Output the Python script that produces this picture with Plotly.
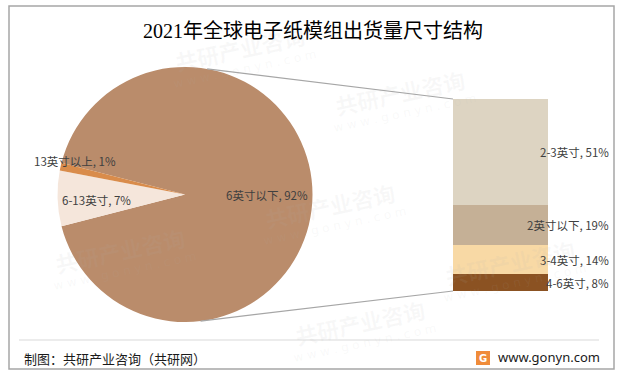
import math
import plotly.graph_objects as go

# ---------------- data ----------------
title_text = "2021年全球电子纸模组出货量尺寸结构"
pie_labels = ["6英寸以下", "6-13英寸", "13英寸以上"]
pie_values = [92, 7, 1]
pie_colors = ["#BA8C6B", "#F5E6DB", "#D98C4B"]

bar_labels = ["2-3英寸", "2英寸以下", "3-4英寸", "4-6英寸"]   # top -> bottom
bar_values = [51, 19, 14, 8]
bar_colors = ["#DDD4C2", "#C5B096", "#F8D9A5", "#8B5222"]

source_text = "制图：共研产业咨询（共研网）"
site_text = "www.gonyn.com"

# ---------------- layout geometry ----------------
W, H = 627, 379
def px(x):
    return x / W
def py(y):
    return 1 - y / H

pie_cx, pie_cy, pie_r = 185, 194.5, 127.5
bar_x0, bar_x1, bar_y0, bar_y1 = 453, 548, 99, 291

CJK = "Noto Sans CJK SC, Microsoft YaHei, sans-serif"
TXT = "#404040"

fig = go.Figure()

other_share = sum(pie_values[1:]) / sum(pie_values)
rotation = 270 + other_share * 360 / 2

fig.add_trace(go.Pie(
    labels=pie_labels, values=pie_values, sort=False, direction="clockwise",
    rotation=rotation, marker=dict(colors=pie_colors, line=dict(width=0)),
    textinfo="none", hoverinfo="label+percent", showlegend=False,
    domain=dict(x=[px(pie_cx - pie_r), px(pie_cx + pie_r)],
                y=[py(pie_cy + pie_r), py(pie_cy - pie_r)]),
))

# stacked bar (bottom -> top)
for lab, val, col in zip(bar_labels[::-1], bar_values[::-1], bar_colors[::-1]):
    fig.add_trace(go.Bar(x=[0], y=[val], name=lab, marker=dict(color=col, line=dict(width=0)),
                         width=1, xaxis="x", yaxis="y", showlegend=False,
                         hovertemplate=lab + ": %{y}%<extra></extra>"))

total_bar = sum(bar_values)
fig.update_layout(
    width=W, height=H, margin=dict(l=0, r=0, t=0, b=0),
    paper_bgcolor="white", plot_bgcolor="rgba(0,0,0,0)",
    barmode="stack", bargap=0,
    xaxis=dict(domain=[px(bar_x0), px(bar_x1)], range=[-0.5, 0.5], visible=False, fixedrange=True),
    yaxis=dict(domain=[py(bar_y1), py(bar_y0)], range=[0, total_bar], visible=False, fixedrange=True),
)

annotations = []
shapes = []

def ann(x, y, text, size, family, color, xanchor="center", yanchor="middle", yref="paper", angle=0):
    annotations.append(dict(x=x, y=y, xref="paper", yref=yref, text=text, showarrow=False,
                            xanchor=xanchor, yanchor=yanchor, textangle=angle,
                            font=dict(size=size, family=family, color=color)))

# faint watermarks (kept inside the frame)
wm = [(400, 92), (120, 250), (330, 205), (360, 322), (510, 262), (240, 48)]
for (wx, wy) in wm:
    ann(px(wx), py(wy), "<b>共研产业咨询</b>", 22, CJK, "rgba(180,180,180,0.09)", angle=-12)
    ann(px(wx + 5), py(wy + 21), "w w w . g o n y n . c o m", 12, "DejaVu Sans", "rgba(180,180,180,0.09)", angle=-12)

# title
ann(px(313), py(31), title_text, 20, "Liberation Serif, Noto Sans CJK SC, serif", "#000000")

# pie labels
pie_label_pos = [(267, 195), (96, 200), (75, 161)]
tot = sum(pie_values)
for lab, val, (lx, ly) in zip(pie_labels, pie_values, pie_label_pos):
    ann(px(lx), py(ly), f"{lab}, {round(val / tot * 100)}%", 11.5, CJK, TXT)

# bar labels
cum = 0
for lab, val in zip(bar_labels[::-1], bar_values[::-1]):
    ann(px(611), cum + val / 2, f"{lab}, {val}%", 11.5, CJK, TXT, xanchor="right", yref="y")
    cum += val

# connector lines from pie to bar
a_top, a_bot = math.radians(10), math.radians(173)
p_top = (pie_cx + pie_r * math.sin(a_top), pie_cy - pie_r * math.cos(a_top))
p_bot = (pie_cx + pie_r * math.sin(a_bot), pie_cy - pie_r * math.cos(a_bot))
shapes.append(dict(type="line", xref="paper", yref="paper", x0=px(p_top[0]), y0=py(p_top[1]),
                   x1=px(bar_x0), y1=py(bar_y0), line=dict(color="#A6A6A6", width=1.2)))
shapes.append(dict(type="line", xref="paper", yref="paper", x0=px(p_bot[0]), y0=py(p_bot[1]),
                   x1=px(bar_x0), y1=py(bar_y1), line=dict(color="#A6A6A6", width=1.2)))

# frame and separator
shapes.append(dict(type="rect", xref="paper", yref="paper", x0=px(9), y0=py(369), x1=px(614), y1=py(6),
                   line=dict(color="#A6A6A6", width=1.5), fillcolor="rgba(0,0,0,0)"))
shapes.append(dict(type="line", xref="paper", yref="paper", x0=px(19), y0=py(340), x1=px(599), y1=py(340),
                   line=dict(color="#D9D9D9", width=1)))

# footer
ann(px(22), py(358), source_text, 13, CJK, "#1a1a1a", xanchor="left")
shapes.append(dict(type="rect", xref="paper", yref="paper", x0=px(476), y0=py(365), x1=px(490), y1=py(351),
                   line=dict(width=0), fillcolor="#F08C3A"))
ann(px(483), py(358), "<b>G</b>", 10, "DejaVu Sans", "white")
ann(px(496), py(357), site_text, 13, "Noto Sans, DejaVu Sans", "#1a1a1a", xanchor="left")

fig.update_layout(annotations=annotations, shapes=shapes)
fig.write_html("out.html", config={"displayModeBar": False})
